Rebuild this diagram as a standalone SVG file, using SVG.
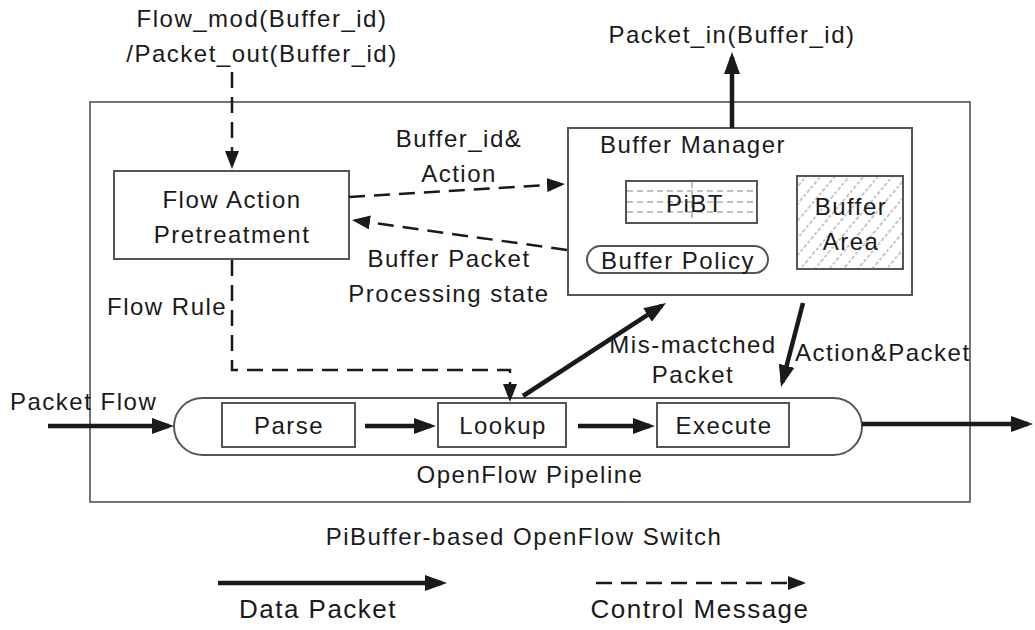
<svg xmlns="http://www.w3.org/2000/svg" width="1035" height="630" viewBox="0 0 1035 630">
<style>
text{font-family:"Liberation Sans",Arial,sans-serif;font-size:24px;fill:#1a1a1a;letter-spacing:1.5px}
.c{text-anchor:middle}
.box{fill:#fff;stroke:#555;stroke-width:2}
.data{fill:none;stroke:#1a1a1a;stroke-width:4.5}
.ctrl{fill:none;stroke:#1a1a1a;stroke-width:2.5;stroke-dasharray:16 9}
.grid{stroke:#aaa;stroke-width:1.5;stroke-dasharray:6 4}
</style>
<defs>
<marker id="ah" viewBox="0 0 22 16" refX="17" refY="8" markerWidth="22" markerHeight="16" markerUnits="userSpaceOnUse" orient="auto"><path d="M0,0 L22,8 L0,16 z" fill="#1a1a1a"/></marker>
<marker id="ahd" viewBox="0 0 18 14" refX="15" refY="7" markerWidth="18" markerHeight="14" markerUnits="userSpaceOnUse" orient="auto"><path d="M0,0 L18,7 L0,14 z" fill="#1a1a1a"/></marker>
<pattern id="hatch" patternUnits="userSpaceOnUse" width="11" height="11" patternTransform="rotate(40)"><line x1="5" y1="0" x2="5" y2="11" stroke="#aaa" stroke-width="1.3" stroke-dasharray="3 2"/></pattern>
</defs>

<rect id="switch" x="90" y="102" width="880" height="400" fill="none" stroke="#666" stroke-width="1.8"/>

<g id="flow-action">
<rect class="box" x="114" y="171" width="235" height="88"/>
<text class="c" x="232" y="208">Flow Action</text>
<text class="c" x="232" y="243">Pretreatment</text>
</g>

<g id="buffer-manager">
<rect class="box" x="568" y="128" width="344" height="167"/>
<text x="600" y="153">Buffer Manager</text>
</g>

<g id="pibt">
<rect class="box" x="626" y="181" width="131" height="42"/>
<line class="grid" x1="627" y1="191" x2="756" y2="191"/>
<line class="grid" x1="627" y1="202" x2="756" y2="202"/>
<line class="grid" x1="627" y1="212" x2="756" y2="212"/>
<line class="grid" x1="692" y1="182" x2="692" y2="222" stroke-dasharray="4 3"/>
<text class="c" x="695" y="212">PiBT</text>
</g>

<g id="buffer-area">
<rect x="797" y="176" width="106" height="93" fill="url(#hatch)" stroke="#555" stroke-width="2"/>
<text class="c" x="851" y="215">Buffer</text>
<text class="c" x="851" y="250">Area</text>
</g>

<g id="buffer-policy">
<rect class="box" x="587" y="246" width="181" height="27" rx="13.5"/>
<text class="c" x="678" y="269">Buffer Policy</text>
</g>

<g id="pipeline">
<rect class="box" x="174" y="398" width="688" height="57" rx="28.5"/>
<text class="c" x="530" y="483">OpenFlow Pipeline</text>
</g>

<g id="parse">
<rect class="box" x="222" y="403" width="133" height="44"/>
<text class="c" x="289" y="434">Parse</text>
</g>
<g id="lookup">
<rect class="box" x="438" y="403" width="128" height="44"/>
<text class="c" x="503" y="434">Lookup</text>
</g>
<g id="execute">
<rect class="box" x="657" y="403" width="132" height="44"/>
<text class="c" x="724" y="434">Execute</text>
</g>

<g id="connectors">
<line class="data" x1="48" y1="426" x2="169" y2="426" marker-end="url(#ah)"/>
<line class="data" x1="862" y1="424" x2="1028" y2="424" marker-end="url(#ah)"/>
<line class="data" x1="365" y1="426" x2="431" y2="426" marker-end="url(#ah)"/>
<line class="data" x1="578" y1="426" x2="650" y2="426" marker-end="url(#ah)"/>
<line class="data" x1="523" y1="396" x2="661.8" y2="305.7" marker-end="url(#ah)"/>
<line class="data" x1="803" y1="303" x2="782.3" y2="382.2" marker-end="url(#ah)"/>
<line class="data" x1="732" y1="128" x2="732" y2="57" stroke-width="3.5" marker-end="url(#ah)"/>
<line class="ctrl" x1="232" y1="72" x2="232" y2="166" marker-end="url(#ahd)"/>
<line class="ctrl" x1="349" y1="197" x2="562" y2="184.2" marker-end="url(#ahd)"/>
<line class="ctrl" x1="567" y1="250" x2="355" y2="220.4" marker-end="url(#ahd)"/>
<path class="ctrl" d="M232,260 V370 H510 V399" marker-end="url(#ahd)"/>
</g>

<g id="labels">
<text class="c" x="262" y="27">Flow_mod(Buffer_id)</text>
<text class="c" x="262" y="62">/Packet_out(Buffer_id)</text>
<text class="c" x="732" y="43">Packet_in(Buffer_id)</text>
<text class="c" x="459" y="147">Buffer_id&amp;</text>
<text class="c" x="459" y="182">Action</text>
<text class="c" x="449" y="267">Buffer Packet</text>
<text class="c" x="449" y="302">Processing state</text>
<text x="107" y="315">Flow Rule</text>
<text class="c" x="693" y="353">Mis-mactched</text>
<text class="c" x="693" y="383">Packet</text>
<text x="795" y="361">Action&amp;Packet</text>
<text x="10" y="410">Packet Flow</text>
<text class="c" x="524" y="545">PiBuffer-based OpenFlow Switch</text>
</g>

<g id="legend">
<line class="data" x1="218" y1="583" x2="442" y2="583" marker-end="url(#ah)"/>
<text class="c" x="318" y="618" style="font-size:26px">Data Packet</text>
<line class="ctrl" x1="596" y1="583" x2="803" y2="583" marker-end="url(#ahd)"/>
<text class="c" x="700" y="618" style="font-size:26px">Control Message</text>
</g>
</svg>
